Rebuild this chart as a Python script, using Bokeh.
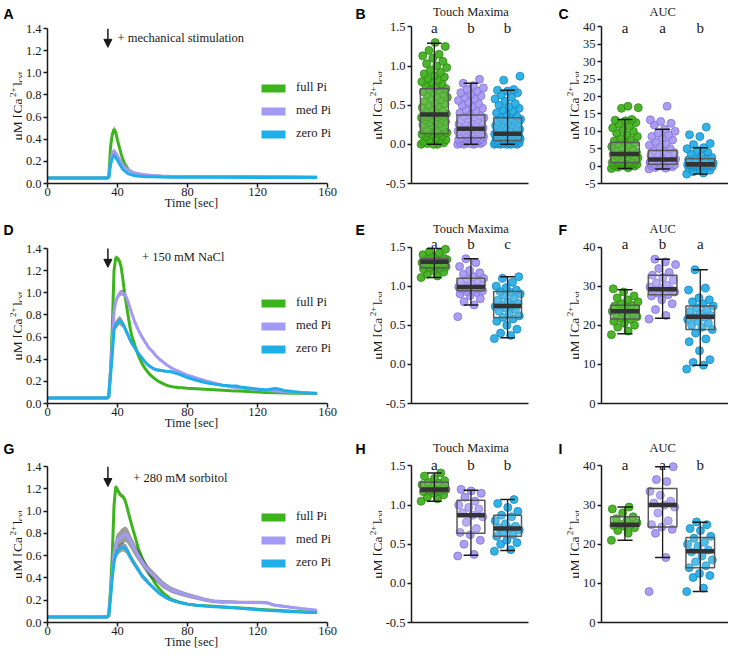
import math
from bokeh.plotting import figure
from bokeh.layouts import row, column
from bokeh.models import (Label, Legend, LegendItem, Arrow, NormalHead, FixedTicker,
                          NumeralTickFormatter, Range1d)
from bokeh.embed import file_html
from bokeh.resources import INLINE

SERIF = "Liberation Serif"
SANS = "Liberation Sans"
INK = "#1a1a1a"

GROUPS = ["full Pi", "med Pi", "zero Pi"]
LINE_COLORS = ["#3cb41c", "#a29af5", "#1eaee8"]
PT_FILL = ["#3fae1c", "#a597f0", "#22abe4"]
PT_EDGE = ["#2c8a12", "#8070dc", "#1689c2"]

TIME_TICKS = [0, 40, 80, 120, 160]
CA_TICKS = [0.0, 0.2, 0.4, 0.6, 0.8, 1.0, 1.2, 1.4]
MAX_TICKS = [-0.5, 0.0, 0.5, 1.0, 1.5]
AUC_TICKS_C = [-5, 0, 5, 10, 15, 20, 25, 30, 35, 40]
AUC_TICKS = [0, 10, 20, 30, 40]

# ---------------- time courses ----------------
T_A = [0, 10, 20, 30, 34, 35, 36, 37, 38, 39, 40, 41, 42, 43, 44, 46, 48, 50, 53, 56, 60, 65, 70, 80, 100, 120, 140, 154]
A_full = [0.05, 0.05, 0.05, 0.05, 0.05, 0.06, 0.33, 0.44, 0.49, 0.46, 0.39, 0.33, 0.27, 0.22, 0.18, 0.13, 0.105, 0.09, 0.08, 0.075, 0.07, 0.065, 0.063, 0.062, 0.062, 0.06, 0.058, 0.057]
A_med = [0.05, 0.05, 0.05, 0.05, 0.05, 0.055, 0.20, 0.27, 0.29, 0.275, 0.25, 0.22, 0.195, 0.17, 0.15, 0.125, 0.105, 0.095, 0.085, 0.078, 0.072, 0.068, 0.065, 0.063, 0.062, 0.06, 0.058, 0.057]
A_zero = [0.05, 0.05, 0.05, 0.05, 0.05, 0.055, 0.17, 0.23, 0.25, 0.235, 0.21, 0.18, 0.155, 0.13, 0.115, 0.09, 0.078, 0.07, 0.065, 0.062, 0.06, 0.058, 0.057, 0.056, 0.056, 0.055, 0.055, 0.055]
A_full_err = [0.004, 0.004, 0.004, 0.004, 0.004, 0.01, 0.03, 0.03, 0.03, 0.025, 0.02, 0.018, 0.015, 0.012, 0.01, 0.008, 0.006, 0.005, 0.004, 0.004, 0.004, 0.003, 0.003, 0.003, 0.003, 0.003, 0.003, 0.003]
A_med_err = [0.004, 0.004, 0.004, 0.004, 0.004, 0.01, 0.02, 0.025, 0.025, 0.02, 0.018, 0.015, 0.012, 0.01, 0.008, 0.007, 0.006, 0.005, 0.004, 0.004, 0.004, 0.003, 0.003, 0.003, 0.003, 0.003, 0.003, 0.003]
A_zero_err = [0.004, 0.004, 0.004, 0.004, 0.004, 0.01, 0.02, 0.02, 0.02, 0.018, 0.015, 0.012, 0.01, 0.008, 0.007, 0.006, 0.005, 0.004, 0.004, 0.004, 0.003, 0.003, 0.003, 0.003, 0.003, 0.003, 0.003, 0.003]

T_D = [0, 10, 20, 30, 34, 35, 36, 37, 38, 39, 40, 41, 42, 43, 44, 45, 46, 47, 48, 50, 52, 54, 56, 58, 60, 62, 64, 66, 68, 70, 72,
       75, 80, 85, 90, 95, 100, 105, 108, 110, 115, 120, 125, 130, 132, 135, 140, 145, 150, 154]
D_full = [0.05, 0.05, 0.05, 0.05, 0.05, 0.07, 0.30, 0.68, 1.20, 1.32, 1.31, 1.29, 1.24, 1.13, 1.00, 0.90, 0.80, 0.70, 0.62,
          0.52, 0.43, 0.36, 0.31, 0.27, 0.24, 0.215, 0.195, 0.18, 0.165, 0.155, 0.15,
          0.145, 0.138, 0.133, 0.128, 0.124, 0.12, 0.116, 0.114, 0.112, 0.108, 0.104, 0.10, 0.097, 0.096, 0.095, 0.093, 0.092, 0.091, 0.09]
D_med = [0.05, 0.05, 0.05, 0.05, 0.05, 0.06, 0.30, 0.55, 0.83, 0.92, 0.96, 0.99, 1.00, 1.00, 0.99, 0.96, 0.92, 0.87, 0.82,
         0.73, 0.66, 0.60, 0.55, 0.50, 0.47, 0.43, 0.40, 0.375, 0.35, 0.33, 0.31,
         0.29, 0.255, 0.23, 0.205, 0.185, 0.165, 0.15, 0.145, 0.14, 0.133, 0.127, 0.12, 0.112, 0.11, 0.107, 0.102, 0.098, 0.095, 0.093]
D_zero = [0.05, 0.05, 0.05, 0.05, 0.05, 0.06, 0.25, 0.44, 0.67, 0.71, 0.73, 0.75, 0.74, 0.72, 0.69, 0.65, 0.62, 0.58, 0.55,
          0.50, 0.45, 0.41, 0.37, 0.34, 0.32, 0.305, 0.30, 0.295, 0.29, 0.29, 0.28,
          0.265, 0.235, 0.21, 0.19, 0.175, 0.165, 0.158, 0.158, 0.15, 0.14, 0.13, 0.122, 0.135, 0.132, 0.118, 0.108, 0.10, 0.095, 0.09]
D_full_err = [0.004, 0.004, 0.004, 0.004, 0.004, 0.01, 0.03, 0.03, 0.03, 0.02, 0.02, 0.02, 0.02, 0.02, 0.02, 0.02, 0.02, 0.02, 0.02,
              0.015, 0.013, 0.012, 0.01, 0.01, 0.009, 0.008, 0.008, 0.007, 0.007, 0.006, 0.006,
              0.005, 0.005, 0.005, 0.005, 0.005, 0.005, 0.005, 0.005, 0.005, 0.005, 0.005, 0.005, 0.005, 0.005, 0.005, 0.005, 0.005, 0.005, 0.005]
D_med_err = [0.004, 0.004, 0.004, 0.004, 0.004, 0.01, 0.03, 0.03, 0.03, 0.025, 0.025, 0.025, 0.025, 0.025, 0.025, 0.025, 0.024, 0.023, 0.022,
             0.02, 0.018, 0.017, 0.016, 0.015, 0.014, 0.013, 0.012, 0.012, 0.011, 0.011, 0.01,
             0.01, 0.009, 0.009, 0.008, 0.008, 0.008, 0.007, 0.007, 0.007, 0.006, 0.006, 0.006, 0.006, 0.006, 0.006, 0.005, 0.005, 0.005, 0.005]
D_zero_err = [0.004, 0.004, 0.004, 0.004, 0.004, 0.01, 0.03, 0.04, 0.04, 0.04, 0.04, 0.04, 0.04, 0.035, 0.03, 0.03, 0.028, 0.026, 0.025,
              0.022, 0.02, 0.018, 0.016, 0.015, 0.014, 0.013, 0.013, 0.012, 0.012, 0.012, 0.011,
              0.01, 0.01, 0.009, 0.009, 0.008, 0.008, 0.008, 0.008, 0.007, 0.007, 0.007, 0.007, 0.008, 0.008, 0.007, 0.006, 0.006, 0.005, 0.005]

T_G = [0, 10, 20, 30, 34, 35, 36, 37, 38, 39, 40, 41, 42, 43, 44, 45, 46, 47, 48, 50, 52, 54, 56, 58, 60, 62, 64, 66, 68, 70, 72,
       75, 80, 85, 90, 95, 100, 105, 110, 115, 120, 125, 130, 135, 140, 145, 150, 154]
G_full = [0.05, 0.05, 0.05, 0.05, 0.05, 0.07, 0.30, 0.60, 1.05, 1.22, 1.19, 1.16, 1.14, 1.13, 1.11, 1.06, 1.00, 0.94, 0.88,
          0.77, 0.66, 0.58, 0.51, 0.44, 0.39, 0.34, 0.30, 0.265, 0.24, 0.215, 0.20,
          0.185, 0.165, 0.155, 0.15, 0.145, 0.14, 0.135, 0.13, 0.125, 0.12, 0.115, 0.11, 0.105, 0.10, 0.097, 0.093, 0.09]
G_med = [0.05, 0.05, 0.05, 0.05, 0.05, 0.06, 0.25, 0.45, 0.62, 0.71, 0.74, 0.75, 0.77, 0.78, 0.79, 0.79, 0.77, 0.74, 0.71,
         0.65, 0.60, 0.55, 0.50, 0.46, 0.43, 0.40, 0.37, 0.34, 0.32, 0.30, 0.285,
         0.27, 0.245, 0.225, 0.205, 0.19, 0.185, 0.185, 0.18, 0.18, 0.18, 0.178, 0.155, 0.145, 0.135, 0.125, 0.117, 0.11]
G_zero = [0.05, 0.05, 0.05, 0.05, 0.05, 0.06, 0.22, 0.40, 0.54, 0.61, 0.64, 0.66, 0.67, 0.68, 0.67, 0.66, 0.63, 0.60, 0.57,
          0.52, 0.47, 0.42, 0.385, 0.35, 0.32, 0.29, 0.26, 0.24, 0.22, 0.205, 0.195,
          0.18, 0.165, 0.155, 0.148, 0.142, 0.138, 0.134, 0.128, 0.122, 0.115, 0.11, 0.105, 0.10, 0.097, 0.094, 0.092, 0.09]
G_full_err = [0.004, 0.004, 0.004, 0.004, 0.004, 0.01, 0.03, 0.04, 0.03, 0.025, 0.02, 0.02, 0.02, 0.02, 0.02, 0.02, 0.02, 0.02, 0.02,
              0.018, 0.016, 0.015, 0.013, 0.012, 0.011, 0.01, 0.009, 0.008, 0.008, 0.007, 0.007,
              0.006, 0.006, 0.005, 0.005, 0.005, 0.005, 0.005, 0.005, 0.005, 0.005, 0.005, 0.005, 0.005, 0.005, 0.005, 0.005, 0.005]
G_med_err = [0.004, 0.004, 0.004, 0.004, 0.004, 0.01, 0.03, 0.05, 0.05, 0.06, 0.06, 0.065, 0.07, 0.07, 0.07, 0.07, 0.068, 0.065, 0.06,
             0.055, 0.05, 0.047, 0.045, 0.042, 0.04, 0.037, 0.035, 0.032, 0.03, 0.028, 0.026,
             0.025, 0.022, 0.02, 0.018, 0.017, 0.016, 0.015, 0.015, 0.015, 0.015, 0.015, 0.013, 0.012, 0.011, 0.01, 0.009, 0.008]
G_zero_err = [0.004, 0.004, 0.004, 0.004, 0.004, 0.01, 0.03, 0.04, 0.04, 0.04, 0.04, 0.04, 0.04, 0.04, 0.04, 0.04, 0.038, 0.035, 0.033,
              0.03, 0.028, 0.025, 0.023, 0.02, 0.018, 0.016, 0.015, 0.014, 0.013, 0.012, 0.011,
              0.01, 0.009, 0.008, 0.008, 0.007, 0.007, 0.006, 0.006, 0.006, 0.005, 0.005, 0.005, 0.005, 0.005, 0.005, 0.005, 0.005]

# ---------------- box plots: points + (q1, median, q3, lower whisker, upper whisker) ----------------
B_full = [0.0, 0.0, 0.01, 0.02, 0.0, 0.03, 0.04, 0.05, 0.06, 0.08, 0.1, 0.11, 0.12, 0.13, 0.14, 0.15, 0.16, 0.18, 0.2, 0.21, 0.22,
          0.15, 0.17, 0.19, 0.22, 0.24, 0.25, 0.27, 0.28, 0.29, 0.3, 0.31, 0.32, 0.33, 0.34, 0.35, 0.35, 0.36, 0.37, 0.37, 0.38, 0.38,
          0.39, 0.4, 0.42, 0.44, 0.45, 0.47, 0.49, 0.5, 0.52, 0.53, 0.55, 0.57, 0.58, 0.6, 0.61, 0.63, 0.64, 0.66, 0.67, 0.69, 0.7, 0.71,
          0.73, 0.75, 0.77, 0.79, 0.8, 0.82, 0.84, 0.86, 0.88, 0.9, 0.92, 0.95, 0.98, 1.0, 1.03, 1.06, 1.1, 1.13, 1.15, 1.2, 1.25, 1.3]
B_med = [0.0, 0.0, 0.0, 0.01, 0.01, 0.02, 0.02, 0.03, 0.03, 0.04, 0.04, 0.05, 0.05, 0.06, 0.06, 0.07, 0.07, 0.08, 0.08, 0.09, 0.1, 0.1,
         0.11, 0.12, 0.12, 0.13, 0.13, 0.14, 0.14, 0.15, 0.15, 0.16, 0.16, 0.17, 0.17, 0.18, 0.18, 0.19, 0.19, 0.2, 0.2, 0.2,
         0.21, 0.22, 0.23, 0.24, 0.25, 0.26, 0.27, 0.28, 0.29, 0.3, 0.31, 0.32, 0.33, 0.34, 0.35, 0.36, 0.37, 0.38,
         0.4, 0.42, 0.44, 0.46, 0.48, 0.5, 0.52, 0.54, 0.56, 0.58, 0.6, 0.62, 0.64, 0.66, 0.68, 0.7, 0.72, 0.75, 0.78, 0.83]
B_zero = [0.0, 0.0, 0.0, 0.0, 0.0, 0.01, 0.01, 0.01, 0.02, 0.02, 0.02, 0.03, 0.03, 0.03, 0.04, 0.04, 0.05, 0.05, 0.05, 0.06,
          0.06, 0.07, 0.07, 0.08, 0.08, 0.09, 0.09, 0.1, 0.1, 0.11, 0.11, 0.12, 0.12, 0.13, 0.13, 0.14, 0.14, 0.14,
          0.15, 0.16, 0.17, 0.18, 0.19, 0.2, 0.21, 0.22, 0.23, 0.24, 0.25, 0.26, 0.27, 0.28, 0.29, 0.3, 0.31, 0.32, 0.33, 0.34,
          0.36, 0.38, 0.4, 0.42, 0.44, 0.46, 0.48, 0.5, 0.52, 0.55, 0.58, 0.6, 0.63, 0.66, 0.68, 0.69, 0.7, 0.82, 0.87]
B_stats = [(0.14, 0.38, 0.71, 0.0, 1.29), (0.085, 0.20, 0.375, 0.0, 0.78), (0.05, 0.135, 0.34, 0.0, 0.69)]

C_full = [-0.7, -0.5, -0.3, 0.0, 0.1, 0.2, 0.3, 0.4, 0.5, 0.6, 0.7, 0.8, 0.9, 1.0, 1.0,
          1.2, 1.4, 1.6, 1.8, 2.0, 2.2, 2.4, 2.6, 2.8, 3.0, 3.2, 3.4, 3.5,
          3.7, 4.0, 4.3, 4.6, 5.0, 5.3, 5.6, 6.0, 6.3, 6.6, 6.8,
          7.2, 7.6, 8.0, 8.5, 9.0, 9.5, 10.0, 10.5, 11.0, 11.5, 12.0, 12.5, 13.0, 13.2, 13.4, 16.6, 16.8, 17.2]
C_med = [-0.8, -0.6, -0.4, -0.2, 0.0, 0.1, 0.2, 0.3, 0.4, 0.5, 0.5,
         0.7, 0.9, 1.0, 1.2, 1.3, 1.5, 1.6, 1.7, 1.8, 1.9,
         2.0, 2.2, 2.4, 2.6, 2.8, 3.0, 3.3, 3.6, 3.9, 4.2, 4.5,
         5.0, 5.5, 6.0, 6.5, 7.0, 7.5, 8.0, 8.5, 9.0, 9.5, 10.0, 10.6, 11.8, 12.3, 12.8, 13.3, 17.2]
C_zero = [-2.3, -2.0, -1.6, -1.2, -0.9, -0.6, -0.4, -0.2, -0.1, 0.0, 0.0,
          0.1, 0.2, 0.3, 0.3, 0.4, 0.4, 0.5, 0.5,
          0.6, 0.7, 0.9, 1.0, 1.2, 1.4, 1.6, 1.8, 2.0, 2.1,
          2.5, 3.0, 3.5, 4.0, 4.5, 5.0, 5.3, 6.2, 6.5, 8.5, 9.0, 11.2]
C_stats = [(1.0, 3.5, 6.8, -0.7, 13.4), (0.5, 1.9, 4.5, -0.8, 10.6), (0.0, 0.5, 2.1, -2.3, 5.3)]

E_full = [1.11, 1.13, 1.15, 1.18, 1.2, 1.22, 1.23, 1.24, 1.25, 1.26, 1.27, 1.28, 1.29, 1.3, 1.3, 1.31, 1.31, 1.32, 1.32, 1.33,
          1.33, 1.34, 1.34, 1.35, 1.36, 1.38, 1.4, 1.42, 1.44, 1.47]
E_med = [0.61, 0.76, 0.8, 0.84, 0.88, 0.9, 0.92, 0.93, 0.94, 0.95, 0.96, 0.97, 0.98, 0.99, 0.99, 1.0, 1.01, 1.03, 1.05, 1.07,
         1.09, 1.1, 1.12, 1.15, 1.17, 1.2, 1.25, 1.3, 1.35]
E_zero = [0.33, 0.37, 0.4, 0.45, 0.5, 0.55, 0.58, 0.6, 0.62, 0.65, 0.68, 0.7, 0.72, 0.74, 0.75, 0.76, 0.78, 0.8, 0.82, 0.85,
          0.88, 0.9, 0.92, 0.93, 0.95, 0.98, 1.0, 1.05, 1.1, 1.12]
E_stats = [(1.235, 1.31, 1.35, 1.11, 1.48), (0.94, 0.99, 1.10, 0.76, 1.35), (0.60, 0.745, 0.93, 0.34, 1.12)]

F_full = [17.6, 18.5, 19.5, 20.0, 20.5, 21.0, 21.5, 21.8, 22.2, 22.5, 22.8, 23.1, 23.4, 23.6, 23.8, 24.0, 24.3, 24.6, 24.9,
          25.1, 25.5, 26.0, 26.5, 27.0, 27.5, 28.5, 29.3]
F_med = [21.6, 22.5, 24.0, 25.5, 26.5, 27.5, 27.8, 28.2, 28.5, 28.8, 29.0, 29.2, 29.4, 29.8, 30.2, 30.8, 31.5, 32.2, 32.8,
         33.5, 34.5, 35.5, 36.2, 36.9]
F_zero = [8.8, 9.8, 10.5, 11.2, 13.5, 15.8, 16.5, 18.0, 18.9, 19.5, 20.0, 20.5, 21.0, 21.5, 22.0, 22.2, 22.5, 23.0, 23.5,
          24.0, 24.5, 24.9, 25.5, 26.0, 26.5, 27.0, 29.0, 29.5, 34.2]
F_stats = [(21.6, 23.6, 25.1, 17.8, 29.1), (27.8, 29.2, 32.8, 21.8, 36.9), (18.9, 22.2, 24.9, 9.8, 34.2)]

H_full = [1.05, 1.08, 1.1, 1.13, 1.15, 1.17, 1.18, 1.19, 1.2, 1.2, 1.21, 1.22, 1.24, 1.26, 1.28, 1.29, 1.31, 1.34, 1.37, 1.41]
H_med = [0.35, 0.37, 0.5, 0.55, 0.62, 0.65, 0.7, 0.78, 0.85, 0.87, 0.9, 0.95, 0.97, 1.0, 1.05, 1.1, 1.15, 1.18, 1.2]
H_zero = [0.41, 0.43, 0.5, 0.52, 0.55, 0.6, 0.62, 0.65, 0.68, 0.7, 0.71, 0.73, 0.76, 0.8, 0.85, 0.87, 0.92, 0.97, 1.02, 1.07]
H_stats = [(1.17, 1.20, 1.29, 1.05, 1.41), (0.64, 0.87, 1.06, 0.36, 1.19), (0.60, 0.70, 0.87, 0.42, 1.07)]

I_full = [21.0, 22.8, 23.5, 24.2, 24.6, 24.8, 25.0, 25.1, 25.5, 26.0, 26.5, 27.0, 28.0, 29.0, 29.5]
I_med = [7.9, 16.6, 22.8, 23.8, 24.4, 25.0, 26.0, 28.0, 29.5, 30.0, 30.5, 31.0, 32.5, 33.5, 36.0, 36.5, 39.8]
I_zero = [7.9, 8.8, 11.5, 12.0, 12.5, 14.0, 14.5, 15.5, 16.0, 17.0, 18.0, 18.5, 19.5, 20.0, 20.5, 21.5, 22.0, 23.5, 24.0, 25.0, 25.7]
I_stats = [(24.6, 25.0, 27.0, 21.0, 29.5), (24.4, 30.0, 34.2, 16.6, 39.8), (14.0, 18.2, 21.7, 7.9, 25.6)]

for t, ss in [(T_A, [A_full, A_med, A_zero, A_full_err, A_med_err, A_zero_err]),
              (T_D, [D_full, D_med, D_zero, D_full_err, D_med_err, D_zero_err]),
              (T_G, [G_full, G_med, G_zero, G_full_err, G_med_err, G_zero_err])]:
    for s in ss:
        assert len(s) == len(t), (len(s), len(t))

# ---------------- layout geometry (pixels) ----------------
W_SA, W_A, W_SB, W_B, W_SC, W_C = 22, 323, 37, 151, 46, 149
A_FRAME_W = 291
A_XEND = 160 + 8 * 160 / 283.0


def no_align(p):
    # keep each canvas' own borders (no frame alignment across the row)
    if "frame_align" in p.properties():
        p.frame_align = False
    return p


def base_fig(w, h, bl, br, bt, bb, xr, yr):
    p = figure(width=w, height=h, x_range=Range1d(*xr), y_range=Range1d(*yr), title=None,
               output_backend="svg", toolbar_location=None,
               min_border_left=bl, min_border_right=br, min_border_top=bt, min_border_bottom=bb)
    no_align(p)
    p.xgrid.visible = False
    p.ygrid.visible = False
    p.outline_line_color = None
    for ax in (p.xaxis[0], p.yaxis[0]):
        ax.axis_line_color = INK
        ax.axis_line_width = 1.5
        ax.major_tick_line_color = INK
        ax.major_tick_line_width = 1.5
        ax.major_tick_out = 4
        ax.major_tick_in = 0
        ax.minor_tick_line_color = None
        ax.major_label_text_font = SERIF
        ax.major_label_text_font_size = "12.5px"
        ax.major_label_text_color = INK
        ax.major_label_standoff = 2
    return p


def side_strip(w, h, base_x, center_y, letter, letter_x, letter_base):
    """Narrow text-only canvas: the rotated y-axis title and the panel letter."""
    s = figure(width=w, height=h, x_range=Range1d(0, w), y_range=Range1d(0, h), title=None,
               x_axis_type=None, y_axis_type=None, output_backend="svg", toolbar_location=None,
               min_border_left=0, min_border_right=0, min_border_top=0, min_border_bottom=0)
    no_align(s)
    s.outline_line_color = None
    pieces = [("\u03bcM [Ca", 13.5, 0, 0.0), ("2+", 9, -5, 43.5), ("]", 13.5, 0, 53.5), ("cyt", 9, 2.5, 58.0)]
    total = 69.0
    for txt, fs, shift, pos in pieces:
        s.add_layout(Label(x=base_x + shift, y=center_y - total / 2 + pos, text=txt,
                           angle=math.pi / 2, text_font=SERIF, text_font_size=f"{fs}px",
                           text_baseline="alphabetic", text_align="left", text_color=INK))
    s.add_layout(Label(x=letter_x, y=h - letter_base, text=letter, text_font=SANS, text_font_style="bold",
                       text_font_size="14px", text_baseline="alphabetic", text_align="left",
                       text_color="#000000"))
    return s


def time_panel(h, bt, frame_h, t, series, errs, stim, stim_x, stim_y, arrow_top, arrow_bot, legend_bottom):
    bb = h - bt - frame_h
    p = base_fig(W_A, h, 22, W_A - 22 - A_FRAME_W, bt, bb, (0, A_XEND), (0, 1.4))
    p.xaxis.bounds = (0, 160)
    p.xaxis.ticker = FixedTicker(ticks=TIME_TICKS)
    p.yaxis.ticker = FixedTicker(ticks=CA_TICKS)
    p.yaxis.formatter = NumeralTickFormatter(format="0.0")
    p.xaxis.axis_label = "Time [sec]"
    p.xaxis.axis_label_text_font = SERIF
    p.xaxis.axis_label_text_font_size = "12.5px"
    p.xaxis.axis_label_text_font_style = "normal"
    p.xaxis.axis_label_text_color = INK
    p.xaxis.axis_label_standoff = -3
    p.xaxis.major_label_standoff = 0
    items = []
    for vals, err, col, g in zip(series, errs, LINE_COLORS, GROUPS):
        lo = [v - e for v, e in zip(vals, err)]
        hi = [v + e for v, e in zip(vals, err)]
        p.varea(x=t, y1=lo, y2=hi, fill_color="#3a3a3a", fill_alpha=0.5)
        p.line(t, vals, line_color=col, line_width=3)
        key = p.varea(x=t, y1=vals, y2=vals, fill_color=col, fill_alpha=1.0)
        items.append(LegendItem(label=g, renderers=[key]))
    leg = Legend(items=items, location=(211, legend_bottom), glyph_width=30, glyph_height=10,
                 label_height=10, spacing=8, padding=0, margin=0, label_standoff=8,
                 border_line_color=None, background_fill_alpha=0,
                 label_text_font=SERIF, label_text_font_size="12.5px", label_text_color=INK)
    p.add_layout(leg)
    p.add_layout(Arrow(end=NormalHead(size=8, fill_color=INK, line_color=INK), x_start=34.5, y_start=arrow_top,
                       x_end=34.5, y_end=arrow_bot, line_color=INK, line_width=1.5))
    p.add_layout(Label(x=stim_x, y=stim_y, text=stim, text_font=SERIF, text_font_size="12.5px",
                       text_baseline="middle", text_align="left", text_color=INK))
    return p, bt, bt + frame_h


def box_panel(kind, h, off, pts, stats, sig, lohi, ticks, fmt, sig_dy, title, title_dy, bb):
    lo, hi = lohi
    frame_h = h - bb
    ppu = (frame_h - off) / (hi - lo)
    top = hi + off / ppu
    if kind == "max":
        w, bl, br, xr = W_B, 26, 5, (0.377, 3.571)
    else:
        w, bl, br, xr = W_C, 22, 0, (0.377, 3.75)
    p = base_fig(w, h, bl, br, 0, bb, xr, (lo, top))
    p.yaxis.bounds = (lo, hi)
    p.xaxis.ticker = FixedTicker(ticks=[])
    p.xaxis.major_tick_out = 0
    p.xaxis.major_label_text_font_size = "0px"
    p.yaxis.ticker = FixedTicker(ticks=ticks)
    p.yaxis.formatter = NumeralTickFormatter(format=fmt)
    for k, (vals, fc, ec) in enumerate(zip(pts, PT_FILL, PT_EDGE), start=1):
        xs = [k + ((i * 0.6180339887) % 1 - 0.5) * 0.72 for i in range(len(vals))]
        p.scatter(xs, vals, size=8, fill_color=fc, line_color=ec, fill_alpha=0.92, line_width=0.8)
    ks = [1, 2, 3]
    q1 = [s[0] for s in stats]
    md = [s[1] for s in stats]
    q3 = [s[2] for s in stats]
    lw = [s[3] for s in stats]
    uw = [s[4] for s in stats]
    p.quad(left=[k - 0.38 for k in ks], right=[k + 0.38 for k in ks], bottom=q1, top=q3,
           fill_color="white", fill_alpha=0.15, line_color="#5a5a5a", line_width=1.5)
    p.segment(x0=ks, y0=lw, x1=ks, y1=uw, line_color=INK, line_width=1.3)
    p.segment(x0=[k - 0.2 for k in ks], y0=lw, x1=[k + 0.2 for k in ks], y1=lw, line_color=INK, line_width=1.5)
    p.segment(x0=[k - 0.2 for k in ks], y0=uw, x1=[k + 0.2 for k in ks], y1=uw, line_color=INK, line_width=1.5)
    p.segment(x0=[k - 0.38 for k in ks], y0=md, x1=[k + 0.38 for k in ks], y1=md, line_color="#333333", line_width=4.5)
    for k, s in zip(ks, sig):
        p.add_layout(Label(x=k, y=hi, y_offset=sig_dy, text=s, text_font=SERIF, text_font_size="15px",
                           text_baseline="alphabetic", text_align="center", text_color=INK))
    p.add_layout(Label(x=2, y=hi, y_offset=title_dy, text=title, text_font=SERIF, text_font_size="12.5px",
                       text_baseline="alphabetic", text_align="center", text_color=INK))
    return p, off, frame_h


def panel_row(ph, a_args, b_args, c_args, letters, letter_base):
    pa, a0, a1 = time_panel(ph, *a_args)
    pb, b0, b1 = box_panel("max", ph, *b_args)
    pc, c0, c1 = box_panel("auc", ph, *c_args)
    sa = side_strip(W_SA, ph, 17, ph - (a0 + a1) / 2, letters[0], 3, letter_base)
    sb = side_strip(W_SB, ph, 32, ph - (b0 + b1) / 2, letters[1], 10, letter_base)
    sc = side_strip(W_SC, ph, 41, ph - (c0 + c1) / 2, letters[2], 25, letter_base)
    return row(sa, pa, sb, pb, sc, pc, spacing=0)


r1 = panel_row(216,
               (28, 155, T_A, [A_full, A_med, A_zero], [A_full_err, A_med_err, A_zero_err],
                "+ mechanical stimulation", 40, 1.31, 1.40, 1.23, 42),
               (26.4, [B_full, B_med, B_zero], B_stats, ["a", "b", "b"], (-0.5, 1.5), MAX_TICKS, "0.0", -1.5,
                "Touch Maxima", 14.9, 33),
               (26.4, [C_full, C_med, C_zero], C_stats, ["a", "a", "b"], (-5, 40), AUC_TICKS_C, "0", -1.5,
                "AUC", 14.9, 33),
               ["A", "B", "C"], 13)
r2 = panel_row(219,
               (32, 155, T_D, [D_full, D_med, D_zero], [D_full_err, D_med_err, D_zero_err],
                "+ 150 mM NaCl", 54, 1.32, 1.41, 1.23, 47),
               (30.5, [E_full, E_med, E_zero], E_stats, ["a", "b", "c"], (-0.5, 1.5), MAX_TICKS, "0.0", 3,
                "Touch Maxima", 18.5, 32),
               (30.5, [F_full, F_med, F_zero], F_stats, ["a", "b", "a"], (0, 40), AUC_TICKS, "0", 3,
                "AUC", 18.5, 32),
               ["D", "E", "F"], 13)
r3 = panel_row(220,
               (31, 156, T_G, [G_full, G_med, G_zero], [G_full_err, G_med_err, G_zero_err],
                "+ 280 mM sorbitol", 49, 1.30, 1.40, 1.22, 52),
               (30.4, [H_full, H_med, H_zero], H_stats, ["a", "b", "b"], (-0.5, 1.5), MAX_TICKS, "0.0", 1,
                "Touch Maxima", 18.4, 33),
               (30.4, [I_full, I_med, I_zero], I_stats, ["a", "a", "b"], (0, 40), AUC_TICKS, "0", 1,
                "AUC", 18.4, 33),
               ["G", "H", "I"], 13)

layout = column(r1, r2, r3, spacing=0)

with open("out.html", "w") as f:
    f.write(file_html(layout, INLINE))
